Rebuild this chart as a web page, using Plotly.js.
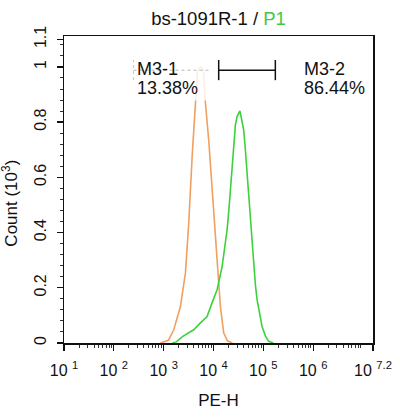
<!DOCTYPE html>
<html>
<head>
<meta charset="utf-8">
<script src="https://cdn.plot.ly/plotly-3.0.1.min.js"></script>
<style>html,body{margin:0;padding:0;background:#fff;}#chart{width:400px;height:417px;}</style>
</head>
<body>
<div id="chart"></div>
<script>
// ---- data (PE-H intensity, count in 10^3) ----
var isotypeX = [861, 1245, 1592, 1888, 2168, 2733, 3185, 3724, 4337, 4540, 4757, 5458, 6270, 6565, 6871, 8012, 9376, 10424, 11800, 13745, 16000, 19000, 23900];
var isotypeY = [0, 0.01, 0.048, 0.09, 0.132, 0.254, 0.435, 0.675, 0.856, 0.924, 0.982, 1.0, 0.989, 0.924, 0.87, 0.735, 0.553, 0.428, 0.313, 0.132, 0.037, 0.008, 0];

var sampleX = [1500, 1803, 2377, 3133, 4005, 5458, 7430, 9500, 11800, 14870, 16530, 18720, 20350, 21810, 23600, 25420, 27490, 29720, 32290, 33810, 36230, 40290, 43560, 47160, 50810, 54950, 59410, 63970, 69200, 74800, 83200, 94200, 109700, 127800, 159000];
var sampleY = [0, 0.004, 0.023, 0.037, 0.048, 0.073, 0.096, 0.149, 0.193, 0.277, 0.338, 0.41, 0.482, 0.555, 0.634, 0.712, 0.79, 0.82, 0.837, 0.841, 0.815, 0.772, 0.7, 0.615, 0.526, 0.435, 0.352, 0.277, 0.211, 0.157, 0.106, 0.06, 0.026, 0.006, 0];

var gateM31 = [248, 8670];
var gateM32 = [12700, 174000];
var gateLabels = ["M3-1", "M3-2"];
var gatePercents = ["13.38%", "86.44%"];

var xTickVals = [10, 100, 1000, 10000, 100000, 1000000, Math.pow(10, 7.2)];
var xTickText = ["10\u00a0<sup>1</sup>", "10\u00a0<sup>2</sup>", "10\u00a0<sup>3</sup>", "10\u00a0<sup>4</sup>", "10\u00a0<sup>5</sup>", "10\u00a0<sup>6</sup>", "10\u00a0<sup>7.2</sup>"];
var yTickVals = [0, 0.2, 0.4, 0.6, 0.8, 1, 1.1];
var yTickText = ["0", "0.2", "0.4", "0.6", "0.8", "1", "1.1"];

// minor log ticks
var xMinor = [];
for (var d = 1; d < 8; d++) {
  for (var m = 2; m <= 9; m++) {
    var v = m * Math.pow(10, d);
    if (v < Math.pow(10, 7.2)) xMinor.push(v);
  }
}

var FONT = "Liberation Sans, Arial, Helvetica, sans-serif";
var ORANGE = "#F0A060";
var GREEN = "#3CD23C";

var traces = [
  {x: isotypeX, y: isotypeY, type: "scatter", mode: "lines",
   line: {color: ORANGE, width: 1.6}, hoverinfo: "skip"},
  {x: sampleX, y: sampleY, type: "scatter", mode: "lines",
   line: {color: GREEN, width: 1.6}, hoverinfo: "skip"}
];

var gateY = 0.988, barLo = 0.952, barHi = 1.025;

var shapes = [
  // fade area behind M3-1 label
  {type: "rect", xref: "paper", yref: "paper", x0: 0.218, x1: 0.466, y0: 0.79, y1: 0.93,
   fillcolor: "rgba(255,255,255,0.82)", line: {width: 0}, layer: "above"},
  // M3-1 gate (faint dotted)
  {type: "line", xref: "x", yref: "y", x0: gateM31[0], x1: gateM31[1], y0: gateY, y1: gateY,
   line: {color: "#b8b8b8", width: 1, dash: "dot"}, layer: "above"},
  {type: "line", xref: "x", yref: "y", x0: gateM31[0], x1: gateM31[0], y0: barLo, y1: barHi,
   line: {color: "#c8c8c8", width: 1, dash: "dot"}, layer: "above"},
  // M3-2 gate
  {type: "line", xref: "x", yref: "y", x0: gateM32[0], x1: gateM32[1], y0: gateY, y1: gateY,
   line: {color: "#111", width: 1.5}, layer: "above"},
  {type: "line", xref: "x", yref: "y", x0: gateM32[0], x1: gateM32[0], y0: barLo, y1: barHi,
   line: {color: "#111", width: 1.5}, layer: "above"},
  {type: "line", xref: "x", yref: "y", x0: gateM32[1], x1: gateM32[1], y0: barLo, y1: barHi,
   line: {color: "#111", width: 1.5}, layer: "above"}
];

var annFont = {family: FONT, size: 18, color: "#111"};
var annotations = [
  {xref: "x", yref: "y", x: 2.43, y: 0.993, text: gateLabels[0], showarrow: false,
   xanchor: "left", yanchor: "middle", font: annFont},
  {xref: "x", yref: "y", x: 2.43, y: 0.922, text: gatePercents[0], showarrow: false,
   xanchor: "left", yanchor: "middle", font: annFont},
  {xref: "x", yref: "y", x: 5.775, y: 0.993, text: gateLabels[1], showarrow: false,
   xanchor: "left", yanchor: "middle", font: annFont},
  {xref: "x", yref: "y", x: 5.775, y: 0.922, text: gatePercents[1], showarrow: false,
   xanchor: "left", yanchor: "middle", font: annFont},
  {xref: "paper", yref: "paper", x: -0.175, y: 0.457, text: "Count (10<sup>3</sup>)",
   showarrow: false, textangle: -90, xanchor: "center", yanchor: "middle",
   font: {family: FONT, size: 17, color: "#111"}}
];

var layout = {
  width: 400, height: 417,
  margin: {l: 64, r: 27, t: 36, b: 74, pad: 0},
  paper_bgcolor: "#fff", plot_bgcolor: "#fff",
  showlegend: false,
  font: {family: FONT, size: 16, color: "#111"},
  title: {text: "bs-1091R-1 / <span style='color:#44C844'>P1</span>",
          font: {family: FONT, size: 18.5, color: "#111"},
          x: 0.5, xref: "paper", xanchor: "center", y: 0.956, yref: "container", yanchor: "middle"},
  xaxis: {
    type: "log", range: [1, 7.2], showgrid: false, zeroline: false,
    showline: true, linecolor: "#111", linewidth: 1.5, mirror: true,
    tickmode: "array", tickvals: xTickVals, ticktext: xTickText,
    ticks: "outside", ticklen: 6, tickwidth: 1.3, tickcolor: "#111",
    ticklabelstandoff: 6,
    tickfont: {family: FONT, size: 16, color: "#111"},
    minor: {tickmode: "array", tickvals: xMinor, ticks: "outside", ticklen: 3, tickwidth: 1, tickcolor: "#333", showgrid: false},
    title: {text: "PE-H", font: {family: FONT, size: 17, color: "#111"}, standoff: 16}
  },
  yaxis: {
    range: [0, 1.112], showgrid: false, zeroline: false,
    showline: true, linecolor: "#111", linewidth: 1.5, mirror: true,
    tickmode: "array", tickvals: yTickVals, ticktext: yTickText, tickangle: -90,
    ticks: "outside", ticklen: 6, tickwidth: 1.3, tickcolor: "#111",
    ticklabelstandoff: 4,
    tickfont: {family: FONT, size: 16, color: "#111"},
    minor: {dtick: 0.04, ticks: "outside", ticklen: 3, tickwidth: 1, tickcolor: "#333", showgrid: false}
  },
  shapes: shapes,
  annotations: annotations
};

Plotly.newPlot("chart", traces, layout, {displayModeBar: false, staticPlot: true});
</script>
</body>
</html>
